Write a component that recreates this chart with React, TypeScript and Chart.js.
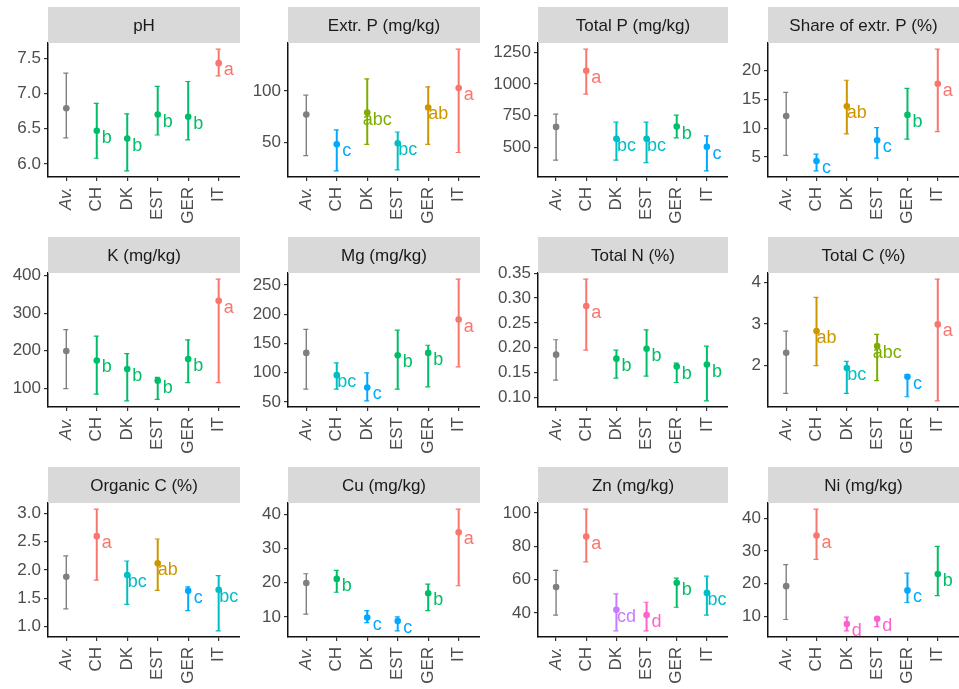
import React, { useEffect, useRef } from 'react';
import { Chart, registerables } from 'chart.js';
Chart.register(...registerables);

const categories = ['Av.', 'CH', 'DK', 'EST', 'GER', 'IT'];

// pH
const phMean = [6.79, 6.47, 6.36, 6.70, 6.67, 7.43];
const phLow = [6.37, 6.08, 5.90, 6.41, 6.34, 7.25];
const phHigh = [7.29, 6.86, 6.71, 7.10, 7.17, 7.63];
const phLetters = ['', 'b', 'b', 'b', 'b', 'a'];
const phTicks = ['6.0', '6.5', '7.0', '7.5'];

// Extr. P (mg/kg)
const extrPMean = [77, 48, 79, 49, 84, 103];
const extrPLow = [37, 22, 48, 23, 48, 40];
const extrPHigh = [96, 62, 112, 60, 104, 141];
const extrPLetters = ['', 'c', 'abc', 'bc', 'ab', 'a'];
const extrPTicks = ['50', '100'];

// Total P (mg/kg)
const totPMean = [662, 1105, 568, 568, 665, 505];
const totPLow = [400, 921, 400, 380, 575, 315];
const totPHigh = [763, 1276, 700, 700, 755, 592];
const totPLetters = ['', 'a', 'bc', 'bc', 'b', 'c'];
const totPTicks = ['500', '750', '1000', '1250'];

// Share of extr. P (%)
const shareMean = [12.1, 4.3, 13.8, 7.9, 12.3, 17.7];
const shareLow = [5.3, 2.6, 9.0, 4.8, 8.1, 9.4];
const shareHigh = [16.2, 5.5, 18.3, 10.1, 16.9, 23.7];
const shareLetters = ['', 'c', 'ab', 'c', 'b', 'a'];
const shareTicks = ['5', '10', '15', '20'];

// K (mg/kg)
const kMean = [199, 174, 151, 120, 178, 333];
const kLow = [99, 84, 66, 70, 115, 115];
const kHigh = [256, 239, 192, 129, 229, 391];
const kLetters = ['', 'b', 'b', 'b', 'b', 'a'];
const kTicks = ['100', '200', '300', '400'];

// Mg (mg/kg)
const mgMean = [134, 96, 75, 130, 134, 191];
const mgLow = [72, 72, 52, 72, 76, 110];
const mgHigh = [174, 117, 100, 173, 147, 260];
const mgLetters = ['', 'bc', 'c', 'b', 'b', 'a'];
const mgTicks = ['50', '100', '150', '200', '250'];

// Total N (%)
const totNMean = [0.186, 0.284, 0.178, 0.198, 0.162, 0.166];
const totNLow = [0.135, 0.195, 0.139, 0.143, 0.130, 0.093];
const totNHigh = [0.216, 0.338, 0.195, 0.236, 0.169, 0.203];
const totNLetters = ['', 'a', 'b', 'b', 'b', 'b'];
const totNTicks = ['0.10', '0.15', '0.20', '0.25', '0.30', '0.35'];

// Total C (%)
const totCMean = [2.31, 2.83, 1.94, 2.47, 1.73, 2.99];
const totCLow = [1.33, 2.0, 1.33, 1.64, 1.25, 1.15];
const totCHigh = [2.83, 3.64, 2.10, 2.75, 1.78, 4.08];
const totCLetters = ['', 'ab', 'bc', 'abc', 'c', 'a'];
const totCTicks = ['2', '3', '4'];

// Organic C (%)
const orgCMean = [1.88, 2.60, 1.91, 2.12, 1.63, 1.65];
const orgCLow = [1.31, 1.82, 1.39, 1.64, 1.28, 0.92];
const orgCHigh = [2.25, 3.08, 2.16, 2.55, 1.70, 1.90];
const orgCLetters = ['', 'a', 'bc', 'ab', 'c', 'bc'];
const orgCTicks = ['1.0', '1.5', '2.0', '2.5', '3.0'];

// Cu (mg/kg)
const cuMean = [19.9, 21.1, 9.8, 8.8, 16.9, 34.7];
const cuLow = [10.8, 17.2, 8.3, 5.9, 11.8, 19.1];
const cuHigh = [22.6, 23.6, 11.8, 10.0, 19.6, 41.5];
const cuLetters = ['', 'b', 'c', 'c', 'b', 'a'];
const cuTicks = ['10', '20', '30', '40'];

// Zn (mg/kg)
const znMean = [55.6, 85.9, 42.0, 38.8, 58.2, 52.1];
const znLow = [38.8, 70.7, 29.3, 29.3, 43.5, 38.8];
const znHigh = [65.6, 102.4, 51.5, 46.5, 61.0, 62.2];
const znLetters = ['', 'a', 'cd', 'd', 'b', 'bc'];
const znTicks = ['40', '60', '80', '100'];

// Ni (mg/kg)
const niMean = [19.2, 34.7, 7.6, 9.2, 17.9, 22.9];
const niLow = [9.0, 27.4, 5.5, 6.8, 14.2, 16.3];
const niHigh = [25.8, 42.8, 9.7, 9.5, 23.2, 31.4];
const niLetters = ['', 'a', 'd', 'd', 'c', 'b'];
const niTicks = ['10', '20', '30', '40'];

const titles = [
  'pH', 'Extr. P (mg/kg)', 'Total P (mg/kg)', 'Share of extr. P (%)',
  'K (mg/kg)', 'Mg (mg/kg)', 'Total N (%)', 'Total C (%)',
  'Organic C (%)', 'Cu (mg/kg)', 'Zn (mg/kg)', 'Ni (mg/kg)',
];

type PanelData = { title: string; mean: number[]; low: number[]; high: number[]; letters: string[]; ticks: string[] };

const panels: PanelData[] = [
  [phMean, phLow, phHigh, phLetters, phTicks],
  [extrPMean, extrPLow, extrPHigh, extrPLetters, extrPTicks],
  [totPMean, totPLow, totPHigh, totPLetters, totPTicks],
  [shareMean, shareLow, shareHigh, shareLetters, shareTicks],
  [kMean, kLow, kHigh, kLetters, kTicks],
  [mgMean, mgLow, mgHigh, mgLetters, mgTicks],
  [totNMean, totNLow, totNHigh, totNLetters, totNTicks],
  [totCMean, totCLow, totCHigh, totCLetters, totCTicks],
  [orgCMean, orgCLow, orgCHigh, orgCLetters, orgCTicks],
  [cuMean, cuLow, cuHigh, cuLetters, cuTicks],
  [znMean, znLow, znHigh, znLetters, znTicks],
  [niMean, niLow, niHigh, niLetters, niTicks],
].map((a: any, i) => ({ title: titles[i], mean: a[0], low: a[1], high: a[2], letters: a[3], ticks: a[4] }));

const letterColors: Record<string, string> = {
  a: '#F8766D', ab: '#CD9600', abc: '#7CAE00', b: '#00BE67',
  bc: '#00BFC4', c: '#00A9FF', cd: '#C77CFF', d: '#FF61CC',
};
const AV_COLOR = '#7F7F7F';
const FONT = '"Liberation Sans", Arial, sans-serif';

// layout of the 4 columns: canvas left, canvas width, y-axis width
const COLS = [
  { left: 0, width: 240, yw: 48 },
  { left: 240, width: 240, yw: 48 },
  { left: 480, width: 248, yw: 58 },
  { left: 728, width: 231, yw: 40 },
];
const ROWS = [
  { top: 0, height: 230 },
  { top: 230, height: 230 },
  { top: 460, height: 229 },
];
const STRIP_TOP = 7;
const PLOT_TOP = 43;
const PLOT_BOTTOM = 177;

function colorFor(letter: string) {
  return letter ? letterColors[letter] : AV_COLOR;
}

function Panel({ p, col, row }: { p: PanelData; col: typeof COLS[0]; row: typeof ROWS[0] }) {
  const ref = useRef<HTMLCanvasElement>(null);
  useEffect(() => {
    const lo = Math.min(...p.low);
    const hi = Math.max(...p.high);
    const r = hi - lo;
    const yMin = lo - 0.05 * r;
    const yMax = hi + 0.05 * r;
    const tickVals = p.ticks.map((t) => parseFloat(t));
    const colors = p.letters.map(colorFor);

    const panelPlugin = {
      id: 'panelDecor',
      beforeDatasetsDraw(chart: any) {
        const { ctx, chartArea, scales } = chart;
        ctx.save();
        // strip
        ctx.fillStyle = '#D9D9D9';
        ctx.fillRect(chartArea.left, STRIP_TOP, chartArea.right - chartArea.left, PLOT_TOP - STRIP_TOP);
        ctx.fillStyle = '#1A1A1A';
        ctx.font = `17px ${FONT}`;
        ctx.textAlign = 'center';
        ctx.textBaseline = 'middle';
        ctx.fillText(p.title, (chartArea.left + chartArea.right) / 2, (STRIP_TOP + PLOT_TOP) / 2 + 1);
        // error bars
        p.low.forEach((l, i) => {
          const x = scales.x.getPixelForValue(i);
          const yl = scales.y.getPixelForValue(l);
          const yh = scales.y.getPixelForValue(p.high[i]);
          ctx.strokeStyle = colors[i];
          ctx.lineWidth = i === 0 ? 1.4 : 2;
          ctx.beginPath();
          ctx.moveTo(x, yl);
          ctx.lineTo(x, yh);
          ctx.stroke();
          ctx.lineWidth = 1.2;
          ctx.beginPath();
          ctx.moveTo(x - 3, yl);
          ctx.lineTo(x + 2, yl);
          ctx.moveTo(x - 3, yh);
          ctx.lineTo(x + 2, yh);
          ctx.stroke();
        });
        ctx.restore();
      },
      afterDatasetsDraw(chart: any) {
        const { ctx, scales } = chart;
        ctx.save();
        ctx.font = `18px ${FONT}`;
        ctx.textAlign = 'center';
        ctx.textBaseline = 'alphabetic';
        p.letters.forEach((lt, i) => {
          if (!lt) return;
          const x = scales.x.getPixelForValue(i);
          const y = scales.y.getPixelForValue(p.mean[i]);
          ctx.fillStyle = colors[i];
          ctx.fillText(lt, x + 10, y + 12);
        });
        ctx.restore();
      },
    };

    const tickFont = (ctx: any) => ({ family: FONT, size: 17, style: ctx.index === 0 && ctx.scale?.axis === 'x' ? 'italic' : 'normal' });

    const chart = new Chart(ref.current as HTMLCanvasElement, {
      type: 'scatter',
      data: {
        datasets: [
          {
            data: p.mean.map((m, i) => ({ x: i, y: m })),
            pointRadius: 3.3,
            pointBackgroundColor: colors,
            pointBorderWidth: 0,
            showLine: false,
            clip: false,
          },
        ],
      },
      options: {
        responsive: false,
        animation: false,
        events: [],
        layout: { autoPadding: false, padding: { top: PLOT_TOP, left: 0, right: 0, bottom: 0 } },
        plugins: { legend: { display: false }, tooltip: { enabled: false } },
        scales: {
          x: {
            type: 'linear',
            bounds: 'data',
            min: -0.6,
            max: 5.7,
            afterBuildTicks: (s: any) => { s.ticks = categories.map((_, i) => ({ value: i })); },
            afterFit: (s: any) => {
              s.height = row.height - PLOT_BOTTOM;
              s.paddingLeft = 0;
              s.paddingRight = 0;
            },
            ticks: {
              autoSkip: false,
              maxRotation: 90,
              minRotation: 90,
              padding: 6,
              color: '#4D4D4D',
              font: tickFont as any,
              callback: (v: any) => categories[Math.round(v)],
            },
            grid: { drawOnChartArea: false, drawTicks: true, tickLength: 4, color: '#333333', lineWidth: 1.2 },
            border: { display: true, color: '#111111', width: 1.5 },
          },
          y: {
            type: 'linear',
            bounds: 'data',
            min: yMin,
            max: yMax,
            afterBuildTicks: (s: any) => { s.ticks = tickVals.map((v) => ({ value: v })); },
            afterFit: (s: any) => {
              s.width = col.yw;
              s.paddingTop = 0;
              s.paddingBottom = 0;
            },
            ticks: {
              padding: 3,
              color: '#4D4D4D',
              font: { family: FONT, size: 17 },
              callback: (_v: any, i: number) => p.ticks[i],
            },
            grid: { drawOnChartArea: false, drawTicks: true, tickLength: 4, color: '#333333', lineWidth: 1.2 },
            border: { display: true, color: '#111111', width: 1.5 },
          },
        },
      } as any,
      plugins: [panelPlugin],
    });
    return () => chart.destroy();
  }, []);
  return (
    <canvas
      ref={ref}
      width={col.width}
      height={row.height}
      style={{ position: 'absolute', left: col.left, top: row.top, width: col.width, height: row.height }}
    />
  );
}

export default function App() {
  return (
    <div style={{ position: 'absolute', left: 0, top: 0, width: 959, height: 689, overflow: 'hidden', background: '#FFFFFF' }}>
      {panels.map((p, i) => (
        <Panel key={i} p={p} col={COLS[i % 4]} row={ROWS[Math.floor(i / 4)]} />
      ))}
    </div>
  );
}
